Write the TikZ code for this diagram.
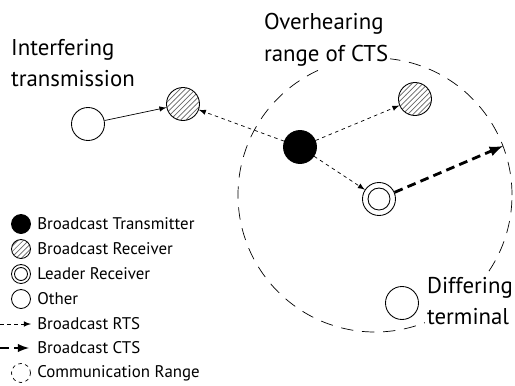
\documentclass[tikz,border=0pt]{standalone}
\usepackage{fontspec}
\setmainfont{PT Sans}
\usepackage{tikz}
\usetikzlibrary{patterns}
\usetikzlibrary{positioning}
\tikzset{>=latex}
\tikzset{
  station/.style={circle,draw,line width=0.5pt,minimum size=0.66cm,inner sep=0pt},
  tx/.style={station,fill=black},
  rx/.style={station,pattern=north east lines,pattern color=black!60},
  leadrx/.style={station,path picture={\draw[line width=0.5pt] (path picture bounding box.center) circle (#1);}},
  legsym/.style={minimum size=0.38cm},
  rts/.style={->,dashed,dash pattern=on 2pt off 2pt,line width=0.4pt},
  cts/.style={->,dash pattern=on 5pt off 3pt,line width=1.6pt},
  commrange/.style={dash pattern=on 7pt off 5pt,line width=0.4pt},
  bigtext/.style={font=\fontsize{13}{18}\selectfont,align=left,inner sep=1pt,fill=white},
  legtext/.style={font=\fontsize{9.6}{11}\selectfont,anchor=west,inner sep=0pt}
}

\begin{document}
\begin{tikzpicture}
	\useasboundingbox (0,0) rectangle (10.3,-7.7);
	% range of the CTS
	\draw[commrange] (7.50,-3.90) circle (2.74);
	% stations
	\node[station] (other) at (1.76,-2.48) {};
	\node[rx] (rxa) at (3.66,-2.08) {};
	\node[tx] (trans) at (6.00,-2.94) {};
	\node[rx] (rxb) at (8.30,-1.98) {};
	\node[leadrx=0.22cm] (lead) at (7.58,-3.98) {};
	\node[station] (differ) at (8.04,-6.06) {};
	\coordinate (ctsend) at (10.06,-2.92);
	% transmissions
	\draw[->] (other) -- (rxa);
	\draw[rts] (trans) -- (rxa);
	\draw[rts] (trans) -- (rxb);
	\draw[rts] (trans) -- (lead);
	\draw[cts] (lead) -- (ctsend);
	% labels
	\node[bigtext,anchor=west] (interf) at (0.18,-1.26) {Interfering\\transmission};
	\node[bigtext,anchor=west] (overh) at (5.24,-0.80) {Overhearing\\range of CTS};
	\node[bigtext,anchor=west] (difflab) at (8.50,-6.02) {Differing\\terminal};
	% legend
	\node[tx,legsym] (ltx) at (0.42,-4.48) {};
	\node[legtext] at (0.74,-4.48) {Broadcast Transmitter};
	\node[rx,legsym] (lrx) at (0.42,-4.98) {};
	\node[legtext] at (0.74,-4.98) {Broadcast Receiver};
	\node[leadrx=0.13cm,legsym] (llead) at (0.42,-5.48) {};
	\node[legtext] at (0.74,-5.48) {Leader Receiver};
	\node[station,legsym] (lother) at (0.42,-5.98) {};
	\node[legtext] at (0.74,-5.98) {Other};
	\coordinate (lrtsa) at (0,-6.48);
	\coordinate (lrtsb) at (0.62,-6.48);
	\draw[rts] (lrtsa) -- (lrtsb);
	\node[legtext] at (0.74,-6.48) {Broadcast RTS};
	\coordinate (lctsa) at (0,-6.96);
	\coordinate (lctsb) at (0.58,-6.96);
	\draw[cts,line width=1.2pt] (lctsa) -- (lctsb);
	\node[legtext] at (0.74,-6.96) {Broadcast CTS};
	\node[station,legsym,commrange,dash pattern=on 2pt off 2pt] (lrange) at (0.42,-7.46) {};
	\node[legtext] at (0.74,-7.46) {Communication Range};
\end{tikzpicture}
\end{document}
